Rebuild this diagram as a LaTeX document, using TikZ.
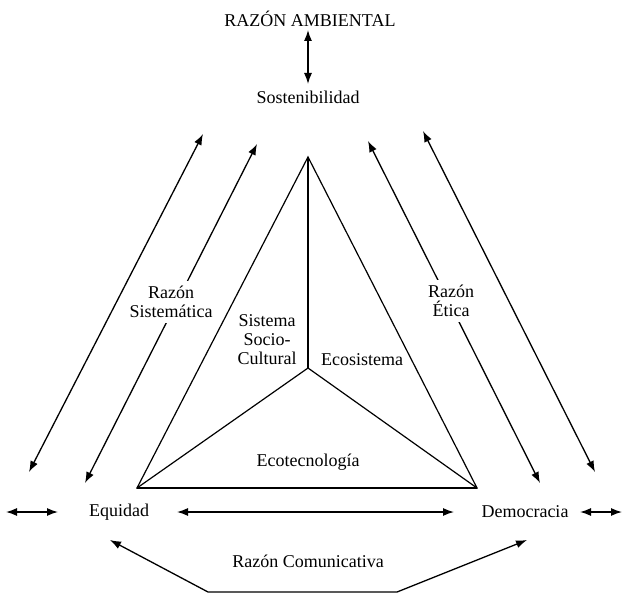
\documentclass[tikz,border=0pt]{standalone}
\usepackage{fontspec}
\setmainfont{Liberation Serif}
\usetikzlibrary{arrows.meta}
\begin{document}
\begin{tikzpicture}[x=1bp,y=-1bp,
  lbl/.style={font=\fontsize{18bp}{19bp}\selectfont, inner sep=1bp, align=center},
  cover/.style={lbl, fill=white, inner ysep=5bp},
  conn/.style={line width=1.3bp, {Latex[length=11bp,width=8bp]}-{Latex[length=11bp,width=8bp]}},
  tri/.style={line width=1.2bp}]
\useasboundingbox (0,0) rectangle (625,594);

% top
\node[lbl] (ra) at (310,19) {RAZÓN AMBIENTAL};
\node[lbl] (sost) at (308,97) {Sostenibilidad};
\coordinate (ta) at (308,30);
\coordinate (tb) at (308,84);
\draw[conn] (ta) -- (tb);

% triangle
\coordinate (apex) at (308,157);
\coordinate (cen) at (308,368);
\coordinate (bl) at (137,488);
\coordinate (br) at (477,488);
\draw[tri] (apex) -- (bl) -- (br) -- cycle;
\draw[tri] (bl) -- (br);
\draw[tri] (apex) -- (cen);
\draw[tri] (cen) -- (bl);
\draw[tri] (cen) -- (br);

% long diagonal arrows
\coordinate (lo1) at (203,134);
\coordinate (lo2) at (29,472);
\coordinate (li1) at (257,144);
\coordinate (li2) at (85,483);
\coordinate (ri1) at (368,141);
\coordinate (ri2) at (540,483);
\coordinate (ro1) at (423,131);
\coordinate (ro2) at (595,472);
\draw[conn] (lo1) -- (lo2);
\draw[conn] (li1) -- (li2);
\draw[conn] (ri1) -- (ri2);
\draw[conn] (ro1) -- (ro2);

% labels on the arrows
\node[cover] (rsis) at (171,302) {Razón\\Sistemática};
\node[cover] (retica) at (451,301) {Razón\\Ética};

% triangle labels
\node[lbl] (ssc) at (267,340) {Sistema\\Socio-\\Cultural};
\node[lbl] (eco) at (362,360) {Ecosistema};
\node[lbl] (ecot) at (308,462) {Ecotecnología};

% bottom row
\node[lbl] (eq) at (119,512) {Equidad};
\node[lbl] (dem) at (525,512) {Democracia};
\coordinate (sl1) at (6,512);
\coordinate (sl2) at (58,512);
\coordinate (sr1) at (580,512);
\coordinate (sr2) at (622,512);
\draw[conn] (sl1) -- (sl2);
\draw[conn] (sr1) -- (sr2);
\coordinate (ca) at (177,512);
\coordinate (cb) at (454,512);
\draw[conn] (ca) -- (cb);

% communicative reason
\coordinate (b1) at (110,540);
\coordinate (b2) at (208,592);
\coordinate (b3) at (397,592);
\coordinate (b4) at (527,540);
\draw[conn] (b1) -- (b2) -- (b3) -- (b4);
\node[lbl] (rcom) at (308,561) {Razón Comunicativa};
\end{tikzpicture}
\end{document}
